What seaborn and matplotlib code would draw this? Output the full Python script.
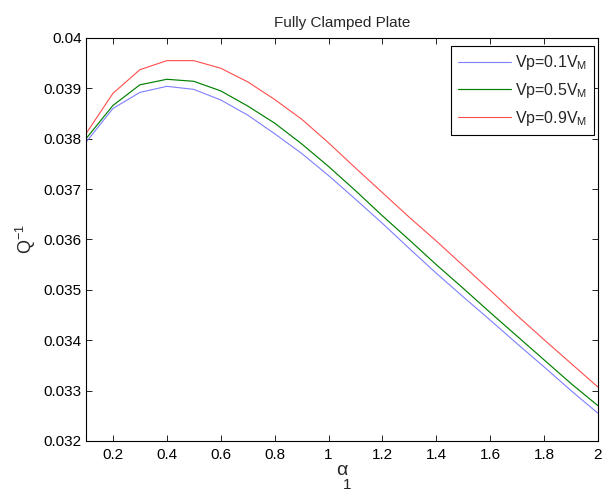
import numpy as np
import pandas as pd
import matplotlib
matplotlib.use("Agg")
import matplotlib.pyplot as plt
import seaborn as sns

# Non-dimensional parameter alpha_1
alpha1 = [0.1, 0.2, 0.3, 0.4, 0.5, 0.6, 0.7, 0.8, 0.9, 1.0,
          1.1, 1.2, 1.3, 1.4, 1.5, 1.6, 1.7, 1.8, 1.9, 2.0]

# Loss factor Q^-1 for three plate velocities
q_vp01 = [0.03793, 0.03860, 0.03892, 0.03904, 0.03898, 0.03877, 0.03847, 0.03810,
          0.03771, 0.03727, 0.03680, 0.03632, 0.03582, 0.03533, 0.03486, 0.03440,
          0.03393, 0.03347, 0.03300, 0.03255]
q_vp05 = [0.03800, 0.03866, 0.03907, 0.03918, 0.03914, 0.03895, 0.03865, 0.03831,
          0.03790, 0.03745, 0.03697, 0.03647, 0.03599, 0.03550, 0.03503, 0.03455,
          0.03408, 0.03361, 0.03314, 0.03270]
q_vp09 = [0.03810, 0.03890, 0.03937, 0.03955, 0.03955, 0.03940, 0.03913, 0.03878,
          0.03839, 0.03792, 0.03742, 0.03693, 0.03644, 0.03597, 0.03548, 0.03499,
          0.03449, 0.03401, 0.03354, 0.03307]

series_labels = [r"Vp=0.1V$_\mathregular{M}$", r"Vp=0.5V$_\mathregular{M}$",
                 r"Vp=0.9V$_\mathregular{M}$"]
series_colors = ["#7f7fff", "#008000", "#ff4d4d"]
series_widths = [0.8, 0.85, 0.8]

x_ticks = [0.2, 0.4, 0.6, 0.8, 1.0, 1.2, 1.4, 1.6, 1.8, 2.0]
x_ticklabels = ["0.2", "0.4", "0.6", "0.8", "1", "1.2", "1.4", "1.6", "1.8", "2"]
y_ticks = [0.032, 0.033, 0.034, 0.035, 0.036, 0.037, 0.038, 0.039, 0.040]
y_ticklabels = ["0.032", "0.033", "0.034", "0.035", "0.036", "0.037", "0.038",
                "0.039", "0.04"]

df = pd.DataFrame({
    "alpha1": alpha1 * 3,
    "Q": q_vp01 + q_vp05 + q_vp09,
    "series": [series_labels[0]] * len(alpha1) + [series_labels[1]] * len(alpha1)
              + [series_labels[2]] * len(alpha1),
})

sns.set_style("ticks")
plt.rcParams["font.family"] = ["Liberation Sans", "DejaVu Sans"]
plt.rcParams["mathtext.fontset"] = "custom"
plt.rcParams["mathtext.rm"] = "Liberation Sans"
plt.rcParams["mathtext.it"] = "Liberation Sans"
plt.rcParams["mathtext.default"] = "regular"

fig = plt.figure(figsize=(6.05, 4.92), dpi=100)
ax = fig.add_axes([0.1421, 0.1037, 0.8463, 0.8191])

sns.lineplot(data=df, x="alpha1", y="Q", hue="series", hue_order=series_labels,
             palette=series_colors, ax=ax, legend=False)
for line, lw in zip(ax.get_lines(), series_widths):
    line.set_linewidth(lw)

ax.set_xlim(0.1, 2.0)
ax.set_ylim(0.032, 0.040)
ax.set_xticks(x_ticks)
ax.set_xticklabels(x_ticklabels)
ax.set_yticks(y_ticks)
ax.set_yticklabels(y_ticklabels)
ax.tick_params(direction="in", length=4, width=0.6, top=True, right=True,
               labelsize=11, colors="black")
ax.tick_params(axis="x", pad=5)
ax.tick_params(axis="y", pad=3)
for sp in ax.spines.values():
    sp.set_visible(True)
    sp.set_linewidth(0.8)
    sp.set_color("black")

# x label: alpha with a deep subscript 1
ax.set_xlabel("α", fontsize=14, labelpad=0)
ax.annotate("1", xy=(0.5, 0), xycoords=ax.xaxis.label, xytext=(1, 1),
            textcoords="offset points", ha="left", va="top", fontsize=11)
ax.set_ylabel(r"Q$^{-1}$", fontsize=13, labelpad=4)
ax.set_title("Fully Clamped Plate", fontsize=11, pad=8)

handles = [plt.Line2D([], [], color=c, lw=lw) for c, lw in zip(series_colors, series_widths)]
leg = ax.legend(handles, series_labels, loc="upper right", fontsize=11.5,
                frameon=True, fancybox=False, edgecolor="black", framealpha=1,
                handlelength=3.3, handletextpad=0.25, borderpad=0.45,
                labelspacing=0.55, borderaxespad=0,
                bbox_to_anchor=(0.9922, 0.980))
leg.get_frame().set_linewidth(0.8)

fig.savefig("out.png", dpi=100)
